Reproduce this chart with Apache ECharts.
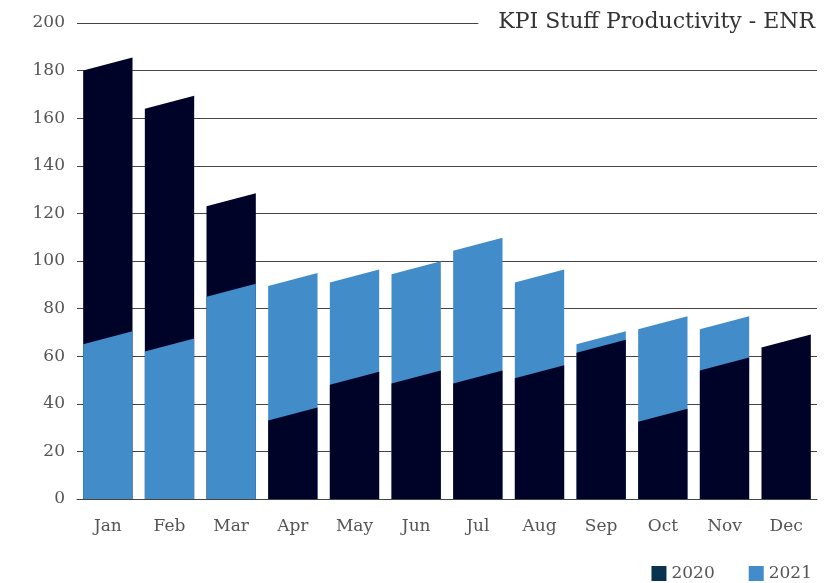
<!DOCTYPE html>
<html>
<head>
    <meta charset="utf-8">
    <title>KPI Stuff Productivity - ENR</title>
    <script src="https://cdn.jsdelivr.net/npm/echarts@6/dist/echarts.min.js"></script>
    <style>
        html, body { margin: 0; padding: 0; background: #fff; }
        #container { width: 833px; height: 583px; }
    </style>
</head>
<body>
<div id="container"></div>
<script type="text/javascript">
// data (value at the left edge of each bar)
var months = ['Jan', 'Feb', 'Mar', 'Apr', 'May', 'Jun', 'Jul', 'Aug', 'Sep', 'Oct', 'Nov', 'Dec'];
var values2020 = [180, 164, 123, 33, 48, 48.5, 48.5, 50.7, 61.5, 32.5, 54, 63.7];
var values2021 = [65, 62, 85, 89.5, 91, 94.4, 104.3, 91, 65, 71.3, 71.3, null];
var yTicks = [0, 200, 20];

var FONT = 'DejaVu Serif';
var SLANT = 13;   // px the top edge rises from left to right

var dom = document.getElementById('container');
var myChart = echarts.init(dom);

function makeRender(own, other, fill) {
    return function (params, api) {
        var i = params.dataIndex;
        var v = own[i];
        if (v == null) return;
        var base = api.coord([i, 0]);
        var top = api.coord([i, v]);
        var w = api.size([1, 0])[0] * 0.8;
        var x0 = base[0] - w / 2, x1 = base[0] + w / 2;
        var front = other[i] != null && v < other[i];
        return {
            type: 'polygon',
            z2: front ? 10 : 1,
            shape: {
                points: [[x0, base[1]], [x0, top[1]], [x1, top[1] - SLANT], [x1, base[1]]]
            },
            style: { fill: fill }
        };
    };
}

var option = {
    backgroundColor: '#fff',
    animation: false,
    title: {
        text: 'KPI Stuff Productivity - ENR',
        right: 10,
        top: 11,
        padding: [0, 8, 0, 20],
        backgroundColor: '#fff',
        textStyle: { fontFamily: FONT, fontSize: 22, fontWeight: 'normal', color: '#333' }
    },
    legend: {
        right: 16,
        top: 560,
        icon: 'rect',
        itemWidth: 15,
        itemHeight: 15,
        itemGap: 34,
        textStyle: { fontFamily: FONT, fontSize: 17, color: '#555' },
        data: ['2020', '2021']
    },
    grid: { left: 77, right: 16, top: 23, bottom: 84 },
    xAxis: {
        type: 'category',
        data: months,
        boundaryGap: true,
        axisLine: { lineStyle: { color: '#444' } },
        axisTick: { length: 5, lineStyle: { color: '#444' } },
        axisLabel: { fontFamily: FONT, fontSize: 17, color: '#555', margin: 19 }
    },
    yAxis: {
        type: 'value',
        min: yTicks[0],
        max: yTicks[1],
        interval: yTicks[2],
        axisLine: { show: false },
        axisTick: { show: false },
        axisLabel: { fontFamily: FONT, fontSize: 17, color: '#555', margin: 12 },
        splitLine: { lineStyle: { color: '#444', width: 1 } }
    },
    series: [
        {
            name: '2020',
            type: 'custom',
            itemStyle: { color: '#0a3350' },
            renderItem: makeRender(values2020, values2021, '#000328'),
            data: values2020.map(function (v, i) { return [i, v]; })
        },
        {
            name: '2021',
            type: 'custom',
            itemStyle: { color: '#428cc9' },
            renderItem: makeRender(values2021, values2020, '#428cc9'),
            data: values2021.map(function (v, i) { return [i, v == null ? 0 : v]; })
        }
    ]
};

myChart.setOption(option, true);
</script>
</body>
</html>
